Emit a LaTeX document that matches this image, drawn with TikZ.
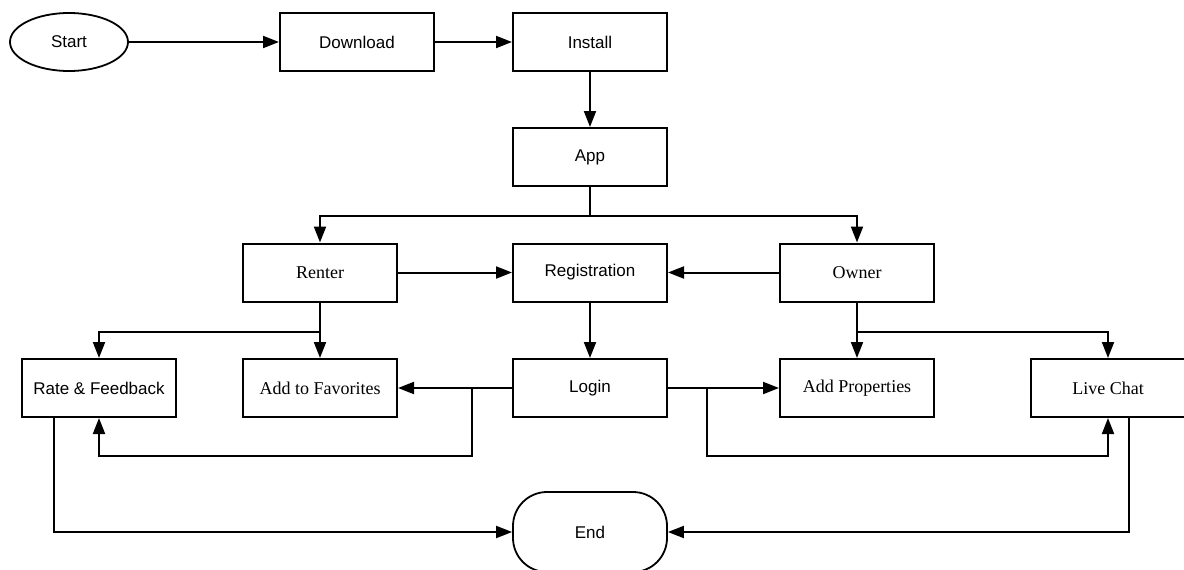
\documentclass[tikz,border=0pt]{standalone}
\usepackage{fontspec}
\setmainfont{Liberation Sans}
\newfontfamily\serifface{Liberation Serif}
\usetikzlibrary{arrows.meta,shapes.geometric}

\begin{document}
\begin{tikzpicture}[
        x=1pt, y=-1pt,
        font=\fontsize{17}{20}\selectfont,
        block/.style={draw=black, line width=2pt, minimum width=154pt, minimum height=58pt, inner sep=0pt},
        sblock/.style={block, font=\serifface\fontsize{18}{21}\selectfont},
        startnode/.style={draw=black, ellipse, line width=1.8pt, minimum width=118pt, minimum height=58pt, inner sep=0pt},
        endnode/.style={draw=black, line width=1.8pt, rounded corners=34pt, minimum width=154pt, minimum height=80pt, inner sep=0pt},
        link/.style={draw=black, line width=2pt, -{Triangle[length=16pt,width=12pt]}}
    ]
        \useasboundingbox (0,0) rectangle (1184,570);

        \node[startnode] (start) at (69,42) {Start};
        \node[block] (download) at (357,42) {Download};
        \node[block] (install) at (590,42) {Install};
        \node[block] (app) at (590,157) {App};
        \node[sblock] (renter) at (320,272.5) {Renter};
        \node[block] (registration) at (590,272.5) {Registration};
        \node[sblock] (owner) at (857,272.5) {Owner};
        \node[block] (rate) at (99,388) {Rate \& Feedback};
        \node[sblock] (favorites) at (320,388) {Add to Favorites};
        \node[block] (login) at (590,388) {Login};
        \node[sblock] (properties) at (857,388) {Add Properties};
        \node[sblock] (chat) at (1108,388) {Live Chat};
        \node[endnode] (finish) at (590,532) {End};

        \draw[link] (start) -- (download);
        \draw[link] (download) -- (install);
        \draw[link] (install) -- (app);
        \draw[link] (app.south) -- ++(0,29) -| (renter.north);
        \draw[link] (app.south) -- ++(0,29) -| (owner.north);
        \draw[link] (renter) -- (registration);
        \draw[link] (owner) -- (registration);
        \draw[link] (registration) -- (login);
        \draw[link] (renter) -- (favorites);
        \draw[link] (renter.south) ++(0,29) -| (rate.north);
        \draw[link] (owner) -- (properties);
        \draw[link] (owner.south) ++(0,29) -| (chat.north);
        \draw[link] (login) -- (favorites);
        \draw[link] (login.west) ++(-40,0) -- ++(0,68) -| (rate.south);
        \draw[link] (login) -- (properties);
        \draw[link] (login.east) ++(39,0) -- ++(0,68) -| (chat.south);
        \draw[link] ([xshift=-45pt]rate.south) |- (finish.west);
        \draw[link] ([xshift=21pt]chat.south) |- (finish.east);
    \end{tikzpicture}
\end{document}
